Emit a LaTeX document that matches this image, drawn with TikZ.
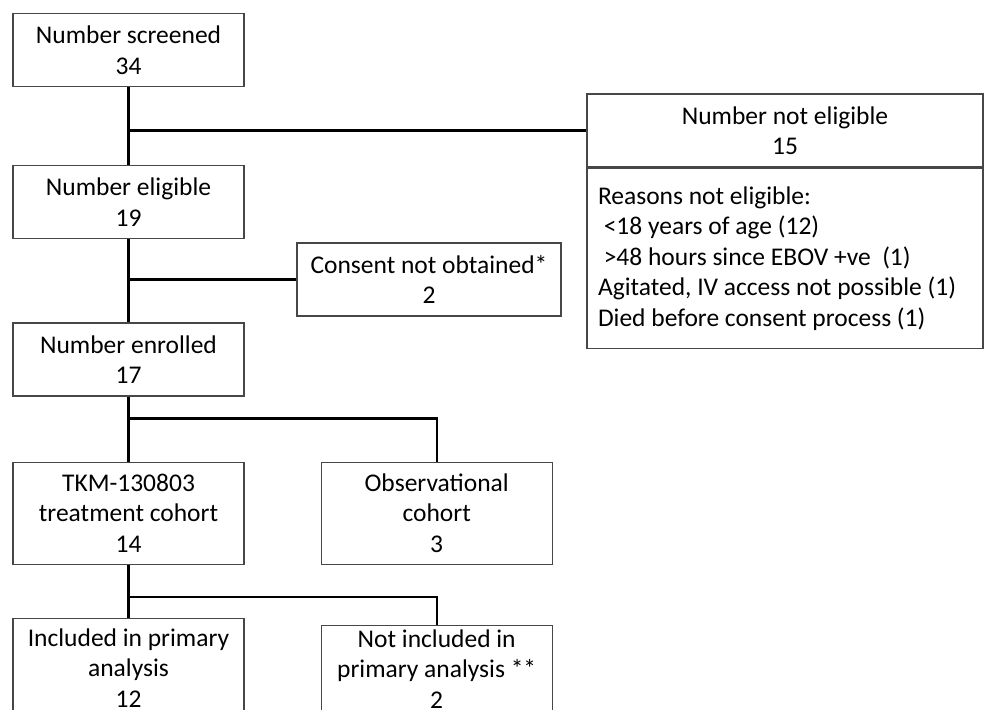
\documentclass[tikz,border=0pt]{standalone}
\usepackage{fontspec}
\setmainfont{Carlito}
\usepackage{tikz}
\usetikzlibrary{positioning}
\newcommand{\flowfont}{\fontsize{25.5}{30.5}\selectfont}
\tikzset{
  cbox/.style={draw=black!72,line width=1.2pt,fill=white,minimum width=231pt,
    minimum height=73pt,align=center,font=\flowfont,inner sep=3pt},
  ctall/.style={cbox,minimum height=102pt},
  creason/.style={cbox,minimum width=396pt,minimum height=180pt,align=flush left,
    text width=374pt,inner sep=11pt},
  clink/.style={draw=black,line width=2.3pt}
}
\begin{document}
\begin{tikzpicture}[x=1pt,y=-1pt]
  \clip (0,0) rectangle (984,709);
  % left column
  \node[cbox] (screened) at (128.5,50) {Number screened\\34};
  \node[cbox,below=78pt of screened] (eligible) {Number eligible\\19};
  \node[cbox,below=83pt of eligible] (enrolled) {Number enrolled\\17};
  \node[ctall,below=65pt of enrolled] (treatment) {TKM-130803\\treatment cohort\\14};
  \node[ctall,minimum height=99pt,below=53pt of treatment] (included) {Included in primary\\analysis\\12};
  % right branches
  \node[cbox,minimum width=396pt] (notelig) at (785,130.5) {Number not eligible\\15};
  \node[creason,below=0pt of notelig] (reasons) {Reasons not eligible:\\
    \ <18 years of age (12)\\
    \ >48 hours since EBOV +ve\ \ (1)\\
    Agitated, IV access not possible (1)\\
    Died before consent process (1)};
  \node[cbox,minimum width=264pt] (consent) at (429,279.5) {Consent not obtained*\\2};
  \node[ctall,right=76pt of treatment] (observ) {Observational\\cohort\\3};
  \node[ctall,minimum height=87pt,below=60pt of observ] (notincl) {Not included in\\primary analysis **\\2};
  % connectors
  \coordinate[below=22pt of enrolled.south] (fork1);
  \coordinate[below=32pt of treatment.south] (fork2);
  \draw[clink] (screened) -- (eligible);
  \draw[clink] (screened.south |- notelig.west) -- (notelig.west);
  \draw[clink] (eligible) -- (enrolled);
  \draw[clink] (eligible.south |- consent.west) -- (consent.west);
  \draw[clink] (enrolled) -- (treatment);
  \draw[clink] (fork1) -| (observ.north);
  \draw[clink] (treatment) -- (included);
  \draw[clink] (fork2) -| (notincl.north);
\end{tikzpicture}
\end{document}
